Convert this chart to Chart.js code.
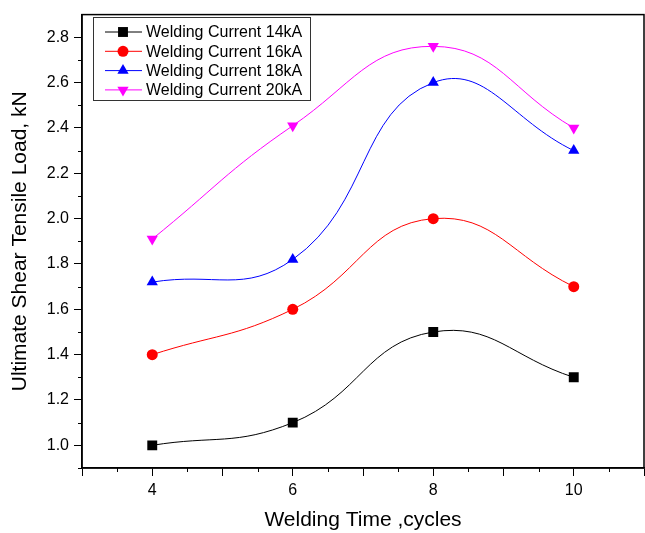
<!DOCTYPE html>
<html>
<head>
<meta charset="utf-8">
<script src="https://cdn.jsdelivr.net/npm/chart.js@4.4.1/dist/chart.umd.min.js"></script>
<style>
  html, body { margin: 0; padding: 0; background: #fff; }
  #wrap { width: 645px; height: 533px; }
</style>
</head>
<body>
<div id="wrap"><canvas id="chart" width="645" height="533"></canvas></div>
<script>
const weldTimes = [4, 6, 8, 10];
const current14 = [1.0, 1.1, 1.5, 1.3];
const current16 = [1.4, 1.6, 2.0, 1.7];
const current18 = [1.72, 1.82, 2.6, 2.3];
const current20 = [1.91, 2.41, 2.76, 2.4];
const seriesLabels = ["Welding Current 14kA", "Welding Current 16kA", "Welding Current 18kA", "Welding Current 20kA"];
const xTicks = [3, 4, 5, 6, 7, 8, 9, 10, 11];
const yTicks = [1.0, 1.2, 1.4, 1.6, 1.8, 2.0, 2.2, 2.4, 2.6, 2.8];

const FONT = "'Liberation Sans', Arial, sans-serif";

function pts(vals) {
    return weldTimes.map((t, i) => ({ x: t, y: vals[i] }));
}

function makeSet(label, vals, color, style, radius, rot) {
    return {
        label: label,
        data: pts(vals),
        borderColor: color,
        backgroundColor: color,
        borderWidth: 1,
        pointStyle: style,
        pointRadius: radius,
        pointHoverRadius: radius,
        pointRotation: rot || 0,
        pointBorderWidth: 0,
        tension: 0.45
    };
}

// box, minor ticks and the legend inside the plot
const framePlugin = {
    id: "frame",
    afterDraw(chart) {
        const ctx = chart.ctx;
        const a = chart.chartArea;
        const xs = chart.scales.x, ys = chart.scales.y;
        ctx.save();
        ctx.strokeStyle = "#000";
        ctx.lineWidth = 1.5;
        ctx.strokeRect(a.left, a.top, a.right - a.left, a.bottom - a.top);

        ctx.lineWidth = 1;
        ctx.beginPath();
        for (let v = 3.5; v < 11; v += 1) {
            const px = Math.round(xs.getPixelForValue(v)) + 0.5;
            ctx.moveTo(px, a.bottom);
            ctx.lineTo(px, a.bottom + 4);
        }
        for (let v = 0.9; v < 2.9; v += 0.2) {
            const py = Math.round(ys.getPixelForValue(v)) + 0.5;
            ctx.moveTo(a.left, py);
            ctx.lineTo(a.left - 4, py);
        }
        ctx.stroke();

        // legend
        const lx = 93, ly = 17, lw = 217, lh = 83;
        ctx.lineWidth = 1;
        ctx.strokeStyle = "#333";
        ctx.fillStyle = "#fff";
        ctx.fillRect(lx, ly, lw, lh);
        ctx.strokeRect(lx + 0.5, ly + 0.5, lw, lh);
        chart.data.datasets.forEach((ds, i) => {
            const cy = 32 + i * 19.3;
            ctx.strokeStyle = ds.borderColor;
            ctx.lineWidth = 1;
            ctx.beginPath();
            ctx.moveTo(105, cy);
            ctx.lineTo(142, cy);
            ctx.stroke();
            ctx.fillStyle = ds.backgroundColor;
            Chart.helpers.drawPoint(ctx, {
                pointStyle: ds.pointStyle,
                rotation: ds.pointRotation,
                radius: ds.pointRadius,
                borderWidth: 0
            }, 123, cy);
            ctx.fillStyle = "#000";
            ctx.font = "16px " + FONT;
            ctx.textBaseline = "middle";
            ctx.fillText(ds.label, 146, cy + 1);
        });
        ctx.restore();
    }
};

new Chart(document.getElementById("chart"), {
    type: "line",
    data: {
        datasets: [
            makeSet(seriesLabels[0], current14, "#000000", "rect", 7),
            makeSet(seriesLabels[1], current16, "#ff0000", "circle", 5.5),
            makeSet(seriesLabels[2], current18, "#0000ff", "triangle", 6.5),
            makeSet(seriesLabels[3], current20, "#ff00ff", "triangle", 6.5, 180)
        ]
    },
    plugins: [framePlugin],
    options: {
        responsive: false,
        animation: false,
        layout: { autoPadding: false, padding: { left: 0, right: 1, top: 11, bottom: 0 } },
        plugins: {
            legend: { display: false },
            tooltip: { enabled: false }
        },
        scales: {
            x: {
                type: "linear",
                min: 3,
                max: 11,
                afterBuildTicks: s => { s.ticks = xTicks.map(v => ({ value: v })); },
                afterFit: s => { s.height = 65; s.paddingRight = 0; s.paddingLeft = 0; },
                grid: { drawOnChartArea: false, drawTicks: true, tickLength: 8, color: "#000", tickWidth: 1 },
                border: { display: true, color: "#000", width: 1.5 },
                ticks: {
                    color: "#000",
                    padding: 5,
                    font: { family: FONT, size: 16 },
                    callback: v => (v % 2 === 0 ? String(v) : "")
                },
                title: {
                    display: true,
                    text: "Welding Time ,cycles",
                    color: "#000",
                    font: { family: FONT, size: 21 },
                    padding: { top: 4, bottom: 0 }
                }
            },
            y: {
                type: "linear",
                min: 0.9,
                max: 2.9,
                afterBuildTicks: s => { s.ticks = yTicks.map(v => ({ value: v })); },
                afterFit: s => { s.width = 82; },
                grid: { drawOnChartArea: false, drawTicks: true, tickLength: 8, color: "#000", tickWidth: 1 },
                border: { display: true, color: "#000", width: 1.5 },
                ticks: {
                    color: "#000",
                    padding: 5,
                    font: { family: FONT, size: 16 },
                    callback: v => v.toFixed(1)
                },
                title: {
                    display: true,
                    text: "Ultimate Shear Tensile Load, kN",
                    color: "#000",
                    font: { family: FONT, size: 21 },
                    padding: { top: 8, bottom: 0 }
                }
            }
        }
    }
});
</script>
</body>
</html>
